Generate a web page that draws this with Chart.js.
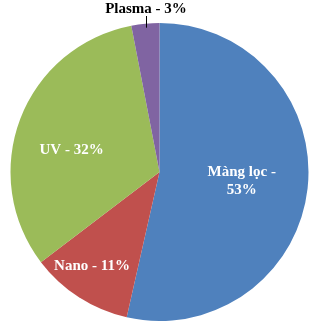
<!DOCTYPE html>
<html>
<head>
<meta charset="utf-8">
<script src="https://cdn.jsdelivr.net/npm/chart.js@4/dist/chart.umd.min.js"></script>
<style>
  html, body { margin: 0; padding: 0; background: #fff; }
  #wrap { width: 320px; height: 330px; }
</style>
</head>
<body>
<div id="wrap"><canvas id="pieChart" width="320" height="330"></canvas></div>
<script>
const labels = ["Màng lọc", "Nano", "UV", "Plasma"];
const values = [53, 11, 32, 3];
const colors = ["#4F81BD", "#C0504D", "#9BBB59", "#8064A2"];

// position des étiquettes (fraction du rayon, par rapport au centre)
const labelOffsets = [[0.552, 0.064], [-0.453, 0.63], [-0.59, -0.15]];

const sliceLabels = {
    id: "sliceLabels",
    afterDatasetsDraw(chart) {
        const ctx = chart.ctx;
        const arcs = chart.getDatasetMeta(0).data;
        ctx.save();
        ctx.font = "bold 15px 'Liberation Serif', 'Times New Roman', serif";
        ctx.textAlign = "center";
        ctx.textBaseline = "middle";
        arcs.forEach((arc, i) => {
            const text = labels[i] + " - " + values[i] + "%";
            const R = arc.outerRadius;
            if (i === 3) {
                // petite part : étiquette au-dessus avec un trait
                const mid = (arc.startAngle + arc.endAngle) / 2;
                const x = Math.round(arc.x + Math.cos(mid) * R * 0.98);
                const y = arc.y + Math.sin(mid) * R;
                ctx.fillStyle = "#000";
                ctx.fillText(text, x, 9);
                ctx.strokeStyle = "#000";
                ctx.lineWidth = 1;
                ctx.beginPath();
                ctx.moveTo(x + 0.5, 16);
                ctx.lineTo(x + 0.5, y + 4);
                ctx.stroke();
                return;
            }
            const x = arc.x + labelOffsets[i][0] * R;
            const y = arc.y + labelOffsets[i][1] * R;
            ctx.fillStyle = "#fff";
            if (i === 0) {
                ctx.fillText(labels[i] + " -", x, y - 9);
                ctx.fillText(values[i] + "%", x, y + 9);
            } else {
                ctx.fillText(text, x, y);
            }
        });
        ctx.restore();
    }
};

new Chart(document.getElementById("pieChart").getContext("2d"), {
    type: "pie",
    data: {
        labels: labels,
        datasets: [{
            data: values,
            backgroundColor: colors,
            borderWidth: 0
        }]
    },
    options: {
        responsive: false,
        animation: false,
        layout: { padding: { top: 23, bottom: 9, left: 9, right: 10 } },
        plugins: {
            legend: { display: false },
            tooltip: { enabled: false }
        }
    },
    plugins: [sliceLabels]
});
</script>
</body>
</html>
